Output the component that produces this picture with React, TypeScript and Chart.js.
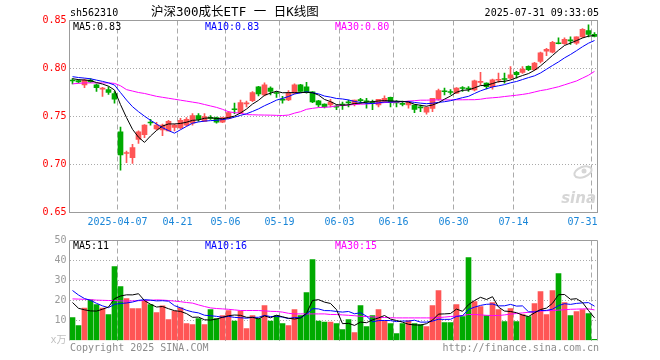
import { useEffect, useRef } from 'react';
import { Chart, registerables } from 'chart.js';

Chart.register(...registerables);

const CODE = 'sh562310';
const TITLE = '沪深300成长ETF 一 日K线图';
const STAMP = '2025-07-31 09:33:05';
const PRICE_MA_TEXT = ['MA5:0.83', 'MA10:0.83', 'MA30:0.80'];
const VOL_MA_TEXT = ['MA5:11', 'MA10:16', 'MA30:15'];
const VOL_UNIT = 'x万';
const COPYRIGHT = 'Copyright 2025 SINA.COM';
const URL_TEXT = 'http://finance.sina.com.cn';

const dates = ['03-25','03-26','03-27','03-28','03-31','04-01','04-02','04-03','04-07','04-08','04-09','04-10','04-11','04-14','04-15','04-16','04-17','04-18','04-21','04-22','04-23','04-24','04-25','04-28','04-29','04-30','05-06','05-07','05-08','05-09','05-12','05-13','05-14','05-15','05-16','05-19','05-20','05-21','05-22','05-23','05-26','05-27','05-28','05-29','05-30','06-03','06-04','06-05','06-06','06-09','06-10','06-11','06-12','06-13','06-16','06-17','06-18','06-19','06-20','06-23','06-24','06-25','06-26','06-27','06-30','07-01','07-02','07-03','07-04','07-07','07-08','07-09','07-10','07-11','07-14','07-15','07-16','07-17','07-18','07-21','07-22','07-23','07-24','07-25','07-28','07-29','07-30','07-31'];

const tickDates = ['04-07','04-21','05-06','05-19','06-03','06-16','06-30','07-14','07-31'];
const tickLabels = ['2025-04-07','04-21','05-06','05-19','06-03','06-16','06-30','07-14','07-31'];

const opens = [0.7875,0.7875,0.7830,0.7880,0.7830,0.7785,0.7780,0.7740,0.7340,0.7115,0.7070,0.7260,0.7310,0.7440,0.7370,0.7360,0.7350,0.7385,0.7380,0.7410,0.7430,0.7510,0.7450,0.7490,0.7490,0.7440,0.7480,0.7580,0.7541,0.7632,0.7666,0.7810,0.7726,0.7795,0.7750,0.7680,0.7674,0.7743,0.7830,0.7810,0.7757,0.7663,0.7630,0.7620,0.7605,0.7625,0.7648,0.7632,0.7672,0.7658,0.7648,0.7620,0.7656,0.7700,0.7648,0.7632,0.7620,0.7620,0.7596,0.7545,0.7585,0.7680,0.7762,0.7756,0.7743,0.7797,0.7790,0.7778,0.7855,0.7847,0.7812,0.7878,0.7890,0.7900,0.7959,0.7959,0.8022,0.7987,0.8074,0.8180,0.8169,0.8266,0.8258,0.8295,0.8265,0.8330,0.8395,0.8355];
const highs = [0.7895,0.7885,0.7890,0.7895,0.7840,0.7805,0.7810,0.7760,0.7390,0.7140,0.7210,0.7350,0.7415,0.7470,0.7440,0.7420,0.7460,0.7420,0.7480,0.7490,0.7530,0.7530,0.7530,0.7510,0.7495,0.7495,0.7550,0.7640,0.7670,0.7660,0.7760,0.7815,0.7850,0.7810,0.7760,0.7710,0.7770,0.7840,0.7835,0.7855,0.7760,0.7668,0.7633,0.7680,0.7622,0.7650,0.7670,0.7670,0.7690,0.7690,0.7670,0.7680,0.7715,0.7702,0.7666,0.7660,0.7660,0.7622,0.7620,0.7600,0.7690,0.7785,0.7795,0.7780,0.7800,0.7812,0.7812,0.7880,0.7960,0.7850,0.7890,0.7952,0.7952,0.8020,0.7970,0.8020,0.8029,0.8065,0.8170,0.8210,0.8284,0.8320,0.8320,0.8330,0.8330,0.8415,0.8455,0.8375];
const lows = [0.7840,0.7850,0.7800,0.7855,0.7760,0.7710,0.7730,0.7640,0.6940,0.7020,0.7010,0.7220,0.7280,0.7410,0.7360,0.7300,0.7350,0.7350,0.7370,0.7400,0.7410,0.7450,0.7450,0.7470,0.7430,0.7435,0.7475,0.7530,0.7530,0.7600,0.7655,0.7715,0.7715,0.7725,0.7700,0.7640,0.7666,0.7736,0.7750,0.7743,0.7645,0.7600,0.7590,0.7600,0.7570,0.7575,0.7600,0.7610,0.7638,0.7586,0.7570,0.7600,0.7645,0.7600,0.7600,0.7610,0.7586,0.7540,0.7550,0.7525,0.7550,0.7670,0.7725,0.7730,0.7740,0.7760,0.7760,0.7767,0.7830,0.7788,0.7785,0.7854,0.7847,0.7890,0.7900,0.7950,0.7977,0.7980,0.8057,0.8134,0.8162,0.8255,0.8250,0.8250,0.8250,0.8320,0.8330,0.8330];
const closes = [0.7870,0.7860,0.7880,0.7860,0.7800,0.7790,0.7750,0.7680,0.7100,0.7125,0.7177,0.7340,0.7410,0.7432,0.7410,0.7410,0.7450,0.7410,0.7460,0.7470,0.7510,0.7470,0.7500,0.7480,0.7440,0.7490,0.7540,0.7570,0.7645,0.7642,0.7750,0.7736,0.7830,0.7760,0.7740,0.7670,0.7743,0.7830,0.7760,0.7754,0.7652,0.7621,0.7600,0.7650,0.7598,0.7618,0.7642,0.7670,0.7665,0.7652,0.7642,0.7680,0.7690,0.7645,0.7642,0.7626,0.7649,0.7575,0.7590,0.7595,0.7690,0.7770,0.7758,0.7750,0.7795,0.7792,0.7785,0.7872,0.7865,0.7812,0.7882,0.7885,0.7885,0.7935,0.7935,0.7994,0.7987,0.8057,0.8162,0.8200,0.8273,0.8258,0.8305,0.8288,0.8330,0.8408,0.8355,0.8335];
const prevCloses = [0.795,0.794,0.793,0.794,0.792,0.791,0.790,0.789,0.790];
const ma30Price = [0.784,0.7845,0.785,0.785,0.785,0.785,0.785,0.7845,0.782,0.778,0.7765,0.775,0.774,0.7725,0.771,0.770,0.769,0.768,0.767,0.766,0.765,0.764,0.7625,0.761,0.7595,0.7575,0.755,0.754,0.7535,0.752,0.7518,0.7516,0.7515,0.7514,0.7512,0.751,0.7515,0.7535,0.755,0.7575,0.7585,0.7593,0.7596,0.760,0.761,0.7615,0.762,0.7625,0.7628,0.763,0.7635,0.764,0.7645,0.7648,0.765,0.7655,0.766,0.7665,0.767,0.767,0.7672,0.7673,0.7673,0.7673,0.7674,0.7674,0.7675,0.7675,0.768,0.769,0.7695,0.770,0.7708,0.7715,0.7722,0.773,0.774,0.7755,0.777,0.778,0.7795,0.781,0.783,0.785,0.787,0.790,0.793,0.797];

const volumes = [11.5,7.5,16.2,20.3,18,16.2,13,37,27,21,16,16,19.7,18,14,17.3,10.5,14.7,16.3,8.5,8,11,8,15.5,11,12.5,15,9.7,14.7,6,12.5,11,17.5,9.7,12.5,8.5,7.5,15.5,12.5,24,40.5,9.7,9.2,9.2,8.5,5.5,10.5,4,17.5,7,12.5,15.5,10,8.5,3.5,8.5,10,8.5,8,7,17.5,25,9,9,18,12,41.5,19.5,17,12.5,19,15.5,9.5,16,9.5,13,12,18.5,24.5,13,25,33.5,19,12.5,14.5,15.5,13.5,0.6];
const prevVolumes = [30,34,29,33,29,22,20,23,18.5];
const ma30Volume = [20.8,20.7,20.6,20.4,20.2,20.1,20,20,19.8,19.7,19.8,19.9,20,20.1,20.3,20.2,20,19.7,19.4,19,18.7,17.8,17,16.3,16,15.8,15.6,15.3,15,15,15,15,14.8,14.6,14.5,14.2,13.6,13.3,13.3,13.3,13.3,13.3,13.3,13,13,12.8,12.6,12.4,12.1,12,11.8,11.6,11.5,11.4,11.3,11.3,11.3,11.3,11.3,11.3,11.3,11.5,11.7,12,12.2,12.5,13,13,12.8,12.6,12.5,12.5,12.8,13.2,13.5,13.8,14.1,14.4,14.7,14.9,15,15.2,15.4,15.6,15.7,15.8,15.8,15.3];

const UP = '#ff5555';
const DOWN = '#00aa00';
const FRAME = '#9c9c9c';
const GRID = '#aaaaaa';
const MONO = '"DejaVu Sans Mono", monospace';
const FONT10 = '10px "DejaVu Sans Mono", monospace';

function movingAvg(series: number[], prior: number[], n: number) {
  const all = [...prior, ...series];
  return series.map((_, i) => {
    const end = prior.length + i;
    const start = end - n + 1;
    if (start < 0) return null;
    let s = 0;
    for (let k = start; k <= end; k++) s += all[k];
    return s / n;
  });
}

const candleColors = closes.map((c, i) => (c >= opens[i] ? UP : DOWN));
const isTick = (i: number) => i >= 0 && i < dates.length && tickDates.includes(dates[i]);
const tickText = (i: number) => {
  const k = tickDates.indexOf(dates[i]);
  if (k < 0) return '';
  return i === dates.length - 1 ? tickLabels[k] + '   ' : tickLabels[k];
};

const pricePlugin = {
  id: 'priceDecor',
  beforeDatasetsDraw(chart: any) {
    const { ctx } = chart;
    ctx.save();
    ctx.strokeStyle = '#d6d6d6';
    ctx.fillStyle = '#d6d6d6';
    ctx.lineWidth = 2;
    ctx.beginPath();
    ctx.ellipse(583, 172, 9, 5, -0.35, 0, Math.PI * 2);
    ctx.stroke();
    ctx.beginPath();
    ctx.arc(584, 171, 2.5, 0, Math.PI * 2);
    ctx.fill();
    ctx.font = 'italic bold 15px "DejaVu Sans", sans-serif';
    ctx.textAlign = 'right';
    ctx.textBaseline = 'alphabetic';
    ctx.fillText('sina', 596, 203);
    ctx.restore();
  },
  afterDraw(chart: any) {
    const { ctx, chartArea: a } = chart;
    ctx.save();
    ctx.strokeStyle = FRAME;
    ctx.lineWidth = 1;
    ctx.strokeRect(a.left, a.top, a.right - a.left, a.bottom - a.top);
    ctx.textBaseline = 'middle';
    ctx.font = FONT10;
    ctx.fillStyle = '#000';
    ctx.textAlign = 'left';
    ctx.fillText(CODE, 70, 13);
    ctx.textAlign = 'right';
    ctx.fillText(STAMP, 599, 13);
    ctx.textAlign = 'left';
    ctx.font = '12.5px "DejaVu Sans Mono", "Noto Sans CJK SC", monospace';
    ctx.fillText(TITLE, 151, 13);
    ctx.font = FONT10;
    ctx.fillStyle = '#000000';
    ctx.fillText(PRICE_MA_TEXT[0], 73, 27);
    ctx.fillStyle = '#0000ff';
    ctx.fillText(PRICE_MA_TEXT[1], 205, 27);
    ctx.fillStyle = '#ff00ff';
    ctx.fillText(PRICE_MA_TEXT[2], 335, 27);
    ctx.restore();
  },
};

const volumePlugin = {
  id: 'volumeDecor',
  afterDraw(chart: any) {
    const { ctx, chartArea: a } = chart;
    ctx.save();
    ctx.strokeStyle = FRAME;
    ctx.lineWidth = 1;
    ctx.beginPath();
    ctx.moveTo(a.left, a.bottom);
    ctx.lineTo(a.left, a.top);
    ctx.lineTo(a.right, a.top);
    ctx.lineTo(a.right, a.bottom);
    ctx.stroke();
    ctx.font = FONT10;
    ctx.textBaseline = 'middle';
    ctx.textAlign = 'left';
    ctx.fillStyle = '#000000';
    ctx.fillText(VOL_MA_TEXT[0], 73, 246);
    ctx.fillStyle = '#0000ff';
    ctx.fillText(VOL_MA_TEXT[1], 205, 246);
    ctx.fillStyle = '#ff00ff';
    ctx.fillText(VOL_MA_TEXT[2], 335, 246);
    ctx.fillStyle = '#8c8c8c';
    ctx.fillText(COPYRIGHT, 70, 348);
    ctx.textAlign = 'right';
    ctx.fillText(URL_TEXT, 599, 348);
    ctx.restore();
  },
};

function lineDs(label: string, data: any[], color: string) {
  return {
    type: 'line' as const,
    label,
    data,
    borderColor: color,
    backgroundColor: color,
    borderWidth: 1,
    pointRadius: 0,
    tension: 0,
    fill: false,
    order: 1,
  };
}

export default function App() {
  const priceRef = useRef<HTMLCanvasElement | null>(null);
  const volRef = useRef<HTMLCanvasElement | null>(null);

  useEffect(() => {
    const ma5 = movingAvg(closes, prevCloses, 5);
    const ma10 = movingAvg(closes, prevCloses, 10);
    const vma5 = movingAvg(volumes, prevVolumes, 5);
    const vma10 = movingAvg(volumes, prevVolumes, 10);

    const xScale = (showTicks: boolean, height: number) => ({
      type: 'category',
      offset: true,
      grid: {
        display: true,
        offset: true,
        drawTicks: false,
        lineWidth: 1,
        color: (c: any) => (isTick(c.index) ? GRID : 'rgba(0,0,0,0)'),
      },
      border: { display: false, dash: [5, 3] },
      ticks: {
        display: showTicks,
        autoSkip: false,
        maxRotation: 0,
        minRotation: 0,
        padding: 4,
        labelOffset: -3,
        color: '#1a86d8',
        font: { family: MONO, size: 10 },
        callback: (_v: any, i: number) => tickText(i),
      },
      afterFit: (s: any) => {
        s.height = height;
      },
    });

    const price = new Chart(priceRef.current as HTMLCanvasElement, {
      type: 'bar',
      data: {
        labels: dates,
        datasets: [
          {
            type: 'bar',
            label: 'wick',
            data: lows.map((l, i) => [l, highs[i]]),
            backgroundColor: candleColors,
            barThickness: 1,
            grouped: false,
            order: 3,
          } as any,
          {
            type: 'bar',
            label: 'body',
            data: opens.map((o, i) => [o, closes[i]]),
            backgroundColor: candleColors,
            barThickness: 5,
            minBarLength: 1,
            grouped: false,
            order: 2,
          } as any,
          lineDs('MA5', ma5, '#000000'),
          lineDs('MA10', ma10, '#0000ff'),
          lineDs('MA30', ma30Price, '#ff00ff'),
        ],
      },
      options: {
        animation: false,
        responsive: false,
        devicePixelRatio: 1,
        events: [],
        layout: { padding: { top: 20.5, left: 0, right: 62.5, bottom: 127.5 } },
        plugins: { legend: { display: false }, tooltip: { enabled: false } },
        scales: {
          x: xScale(true, 20) as any,
          y: {
            min: 0.65,
            max: 0.85,
            grid: { drawTicks: false, color: GRID, lineWidth: 1 },
            border: { display: false, dash: [1, 2] },
            ticks: {
              stepSize: 0.05,
              padding: 3,
              color: '#ff0000',
              font: { family: MONO, size: 10 },
              callback: (v: any) => Number(v).toFixed(2),
            },
            afterFit: (s: any) => {
              s.width = 69.5;
            },
          } as any,
        },
      },
      plugins: [pricePlugin],
    });

    const vol = new Chart(volRef.current as HTMLCanvasElement, {
      type: 'bar',
      data: {
        labels: dates,
        datasets: [
          {
            type: 'bar',
            label: 'volume',
            data: volumes,
            backgroundColor: candleColors,
            barThickness: 5,
            grouped: false,
            order: 2,
          } as any,
          lineDs('VMA5', vma5, '#000000'),
          lineDs('VMA10', vma10, '#0000ff'),
          lineDs('VMA30', ma30Volume, '#ff00ff'),
        ],
      },
      options: {
        animation: false,
        responsive: false,
        devicePixelRatio: 1,
        events: [],
        layout: { padding: { top: 240.5, left: 0, right: 62.5, bottom: 19.5 } },
        plugins: { legend: { display: false }, tooltip: { enabled: false } },
        scales: {
          x: xScale(false, 0) as any,
          y: {
            min: 0,
            max: 50,
            grid: {
              drawTicks: false,
              lineWidth: 1,
              color: (c: any) => (c.tick && (c.tick.value === 0 || c.tick.value === 50) ? 'rgba(0,0,0,0)' : GRID),
            },
            border: { display: false, dash: [1, 2] },
            ticks: {
              stepSize: 10,
              padding: 3,
              color: (c: any) => (c.tick && c.tick.value === 0 ? '#c0c0c0' : '#9a9a9a'),
              font: { family: '"DejaVu Sans Mono", "Noto Sans CJK SC", monospace', size: 10 },
              callback: (v: any) => (Number(v) === 0 ? VOL_UNIT : String(v)),
            },
            afterFit: (s: any) => {
              s.width = 69.5;
            },
          } as any,
        },
      },
      plugins: [volumePlugin],
    });

    return () => {
      price.destroy();
      vol.destroy();
    };
  }, []);

  return (
    <div style={{ position: 'fixed', left: 0, top: 0, width: 660, height: 360, background: '#ffffff' }}>
      <canvas ref={priceRef} width={660} height={360} style={{ position: 'absolute', left: 0, top: 0, width: 660, height: 360 }} />
      <canvas ref={volRef} width={660} height={360} style={{ position: 'absolute', left: 0, top: 0, width: 660, height: 360 }} />
    </div>
  );
}
